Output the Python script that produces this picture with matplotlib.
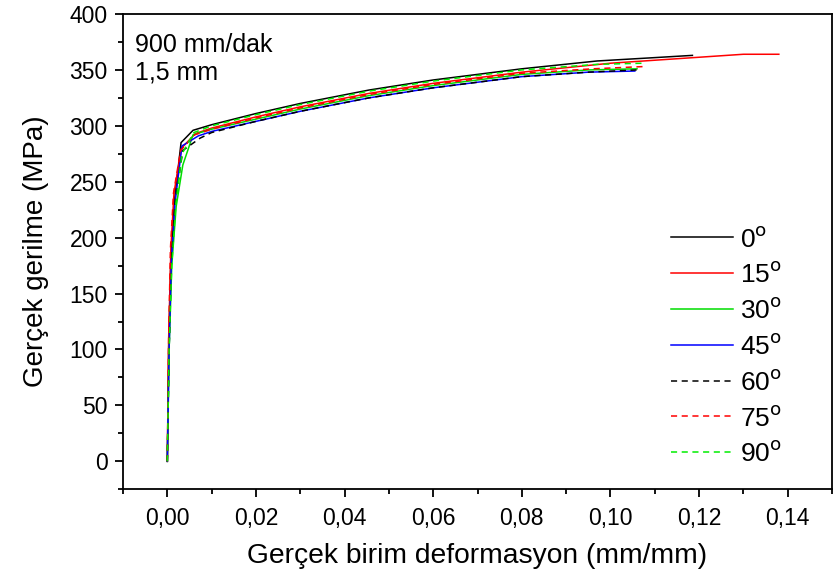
"""Gercek gerilme - gercek birim deformasyon egrileri."""
import matplotlib
matplotlib.use('Agg')
import matplotlib.pyplot as plt
from matplotlib.ticker import MultipleLocator, FuncFormatter

plt.rcParams['font.family'] = ['Liberation Sans', 'DejaVu Sans']

# veri
strain_0 = [0.0, 0.0003, 0.0008, 0.0016, 0.0031, 0.0058, 0.010, 0.020, 0.030,
            0.0455, 0.060, 0.080, 0.097, 0.110, 0.1185]
stress_0 = [0, 100, 180, 233, 285, 296, 301, 311, 320, 332, 341, 351, 358, 361, 363]

strain_15 = [0.0, 0.0003, 0.0008, 0.0015, 0.0032, 0.0063, 0.010, 0.020, 0.030,
             0.0455, 0.060, 0.080, 0.100, 0.115, 0.130, 0.138]
stress_15 = [0, 110, 190, 240, 280, 293, 298, 308, 317, 329, 338, 348, 356, 360, 364, 364]

strain_30 = [0.0, 0.0004, 0.0010, 0.0020, 0.0035, 0.0058, 0.010, 0.020, 0.030,
             0.0455, 0.060, 0.080, 0.095, 0.106]
stress_30 = [0, 100, 175, 228, 265, 292, 297, 306, 315, 327, 336, 346, 350, 351]

strain_45 = [0.0, 0.0004, 0.0009, 0.0017, 0.0033, 0.0070, 0.010, 0.020, 0.030,
             0.0455, 0.060, 0.080, 0.095, 0.1055]
stress_45 = [0, 100, 178, 230, 282, 291, 295, 304, 313, 325, 334, 344, 348, 349]

strain_60 = [0.0, 0.0004, 0.0009, 0.0017, 0.0035, 0.0074, 0.010, 0.020, 0.030,
             0.0455, 0.060, 0.080, 0.095, 0.106]
stress_60 = [0, 100, 178, 230, 278, 289, 294, 304, 313, 325, 334, 344, 348, 350]

strain_75 = [0.0, 0.0003, 0.0007, 0.0014, 0.0030, 0.0062, 0.010, 0.020, 0.030,
             0.0455, 0.060, 0.080, 0.096, 0.1075]
stress_75 = [0, 110, 190, 240, 278, 292, 297, 307, 316, 328, 337, 347, 351, 353]

strain_90 = [0.0, 0.0004, 0.0010, 0.0019, 0.0033, 0.0060, 0.010, 0.020, 0.030,
             0.0455, 0.060, 0.080, 0.097, 0.1075]
stress_90 = [0, 100, 175, 230, 275, 294, 300, 310, 319, 331, 340, 350, 355, 356]

labels = ['0', '15', '30', '45', '60', '75', '90']
colors = ['black', 'red', '#00dd00', 'blue', 'black', 'red', '#00ee00']
styles = ['-', '-', '-', '-', '--', '--', '--']

curves = [(strain_0, stress_0), (strain_15, stress_15), (strain_30, stress_30),
          (strain_45, stress_45), (strain_60, stress_60), (strain_75, stress_75),
          (strain_90, stress_90)]

fig = plt.figure(figsize=(8.34, 5.74), dpi=100)
ax = fig.add_axes([0.1475, 0.1476, 0.8501, 0.828])

for (x, y), lab, c, ls in zip(curves, labels, colors, styles):
    ax.plot(x, y, color=c, linestyle=ls, linewidth=1.1,
            label=lab + r'$^{\mathrm{o}}$', dashes=(4, 3) if ls == '--' else (None, None))

ax.set_xlim(-0.01, 0.15)
ax.set_ylim(-25, 400)
ax.xaxis.set_major_locator(MultipleLocator(0.02))
ax.xaxis.set_minor_locator(MultipleLocator(0.01))
ax.yaxis.set_major_locator(MultipleLocator(50))
ax.yaxis.set_minor_locator(MultipleLocator(25))
ax.xaxis.set_major_formatter(FuncFormatter(lambda v, p: ('%.2f' % v).replace('.', ',')))
ax.tick_params(which='major', direction='out', length=6, width=1.3, labelsize=16.5, pad=5)
ax.tick_params(axis='x', which='major', pad=7)
ax.tick_params(which='minor', direction='out', length=3.5, width=1.3)
ax.tick_params(top=False, right=False, which='both')
for s in ax.spines.values():
    s.set_linewidth(1.3)

ax.set_xlabel('Gerçek birim deformasyon (mm/mm)', fontsize=20.3, labelpad=9)
ax.set_ylabel('Gerçek gerilme (MPa)', fontsize=20, labelpad=15)

ax.text(0.017, 0.96, '900 mm/dak\n1,5 mm', transform=ax.transAxes,
        fontsize=18, va='top', ha='left', linespacing=1.2)

leg = ax.legend(loc='upper left', bbox_to_anchor=(660 / 834, 1 - 216 / 574),
                bbox_transform=fig.transFigure, borderaxespad=0, frameon=False,
                fontsize=19, handlelength=2.35, handletextpad=0.3, labelspacing=0.41)

fig.savefig('out.png', dpi=100)
